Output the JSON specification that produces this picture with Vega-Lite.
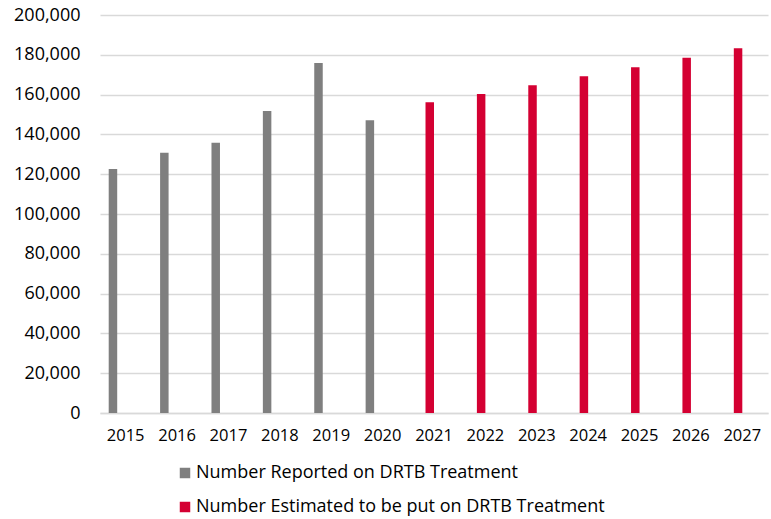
{
  "$schema": "https://vega.github.io/schema/vega-lite/v6.json",
  "autosize": {"type": "none"},
  "padding": {"left": 100, "top": 15, "right": 3, "bottom": 106},
  "width": 668,
  "height": 398,
  "background": "white",
  "data": {
    "values": [
      {"year": "2015", "series": "Number Reported on DRTB Treatment", "value": 122600},
      {"year": "2016", "series": "Number Reported on DRTB Treatment", "value": 130800},
      {"year": "2017", "series": "Number Reported on DRTB Treatment", "value": 135800},
      {"year": "2018", "series": "Number Reported on DRTB Treatment", "value": 151800},
      {"year": "2019", "series": "Number Reported on DRTB Treatment", "value": 175900},
      {"year": "2020", "series": "Number Reported on DRTB Treatment", "value": 147100},
      {"year": "2021", "series": "Number Estimated to be put on DRTB Treatment", "value": 156100},
      {"year": "2022", "series": "Number Estimated to be put on DRTB Treatment", "value": 160300},
      {"year": "2023", "series": "Number Estimated to be put on DRTB Treatment", "value": 164700},
      {"year": "2024", "series": "Number Estimated to be put on DRTB Treatment", "value": 169200},
      {"year": "2025", "series": "Number Estimated to be put on DRTB Treatment", "value": 173700},
      {"year": "2026", "series": "Number Estimated to be put on DRTB Treatment", "value": 178500},
      {"year": "2027", "series": "Number Estimated to be put on DRTB Treatment", "value": 183300}
    ]
  },
  "mark": {"type": "bar"},
  "encoding": {
    "x": {
      "field": "year",
      "type": "ordinal",
      "title": null,
      "scale": {"paddingInner": 0.339, "paddingOuter": 0.1695},
      "axis": {
        "labelAngle": 0,
        "labelFont": "Open Sans",
        "labelFontSize": 16.5,
        "labelColor": "#000000",
        "labelPadding": 14,
        "ticks": false,
        "domainColor": "#d9d9d9",
        "domainWidth": 1.5,
        "grid": false
      }
    },
    "xOffset": {
      "field": "series",
      "type": "nominal",
      "scale": {"domain": ["Number Reported on DRTB Treatment", "Number Estimated to be put on DRTB Treatment", "s3", "s4"], "paddingInner": 0, "paddingOuter": 0}
    },
    "y": {
      "field": "value",
      "type": "quantitative",
      "title": null,
      "scale": {"domain": [0, 200000], "nice": false},
      "axis": {
        "values": [0, 20000, 40000, 60000, 80000, 100000, 120000, 140000, 160000, 180000, 200000],
        "format": ",d",
        "labelFont": "Open Sans",
        "labelFontSize": 18,
        "labelColor": "#000000",
        "labelPadding": 20,
        "ticks": false,
        "domain": false,
        "gridColor": "#d9d9d9",
        "gridWidth": 1.5
      }
    },
    "color": {
      "field": "series",
      "type": "nominal",
      "scale": {
        "domain": ["Number Reported on DRTB Treatment", "Number Estimated to be put on DRTB Treatment"],
        "range": ["#7f7f7f", "#d40032"]
      },
      "legend": {
        "title": null,
        "orient": "none",
        "legendX": 76,
        "legendY": 449,
        "direction": "vertical",
        "symbolType": "square",
        "symbolSize": 110,
        "symbolStrokeWidth": 0,
        "labelFont": "Open Sans",
        "labelFontSize": 18,
        "labelColor": "#000000",
        "labelLimit": 600,
        "rowPadding": 16,
        "labelOffset": 2
      }
    }
  },
  "config": {"view": {"stroke": null}}
}
